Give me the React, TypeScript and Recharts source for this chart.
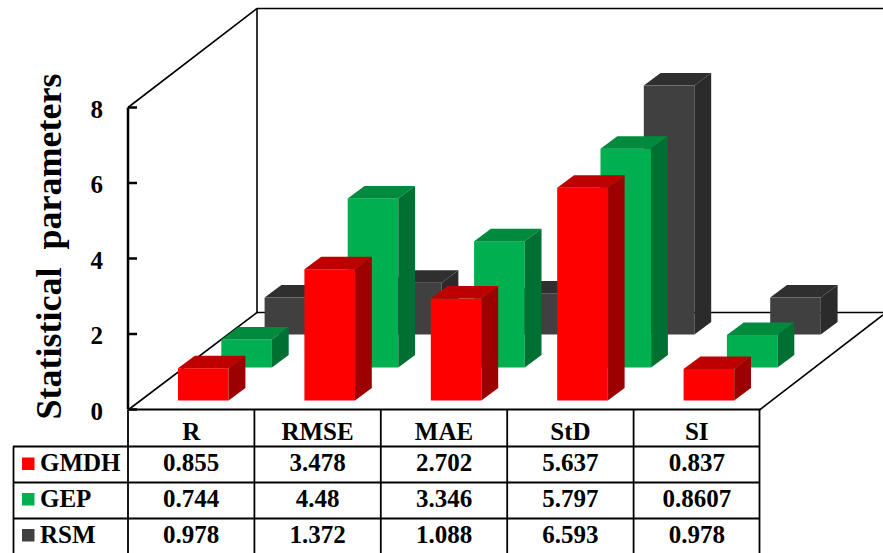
import { BarChart, Bar, XAxis, YAxis } from "recharts";

const categories = ["R", "RMSE", "MAE", "StD", "SI"];
const gmdh = [0.855, 3.478, 2.702, 5.637, 0.837];
const gep = [0.744, 4.48, 3.346, 5.797, 0.8607];
const rsm = [0.978, 1.372, 1.088, 6.593, 0.978];
const yTicks = [0, 2, 4, 6, 8];

const data = categories.map((name, i) => ({ name, gmdh: gmdh[i], gep: gep[i], rsm: rsm[i] }));

const FONT = "'Liberation Serif', 'Times New Roman', serif";
const WIDTH = 883;
const HEIGHT = 553;
const LEFT = 128;
const RIGHT = 760;
const TOP = 107.5;
const BOTTOM = 409.5;
const BAND = (RIGHT - LEFT) / categories.length;
const BAR_WIDTH = 50.6;

// one depth row of the floor, and the extrusion of each box
const ROW_DX = 43.3;
const ROW_DY = 33;
const FIRST_DX = 12;
const FIRST_DY = 9;
const BOX_DX = 16.8;
const BOX_DY = 12.5;

const RED = { front: "#ff0000", top: "#be0000", side: "#9c0000" };
const GREEN = { front: "#00b050", top: "#008a3e", side: "#006f32" };
const DARK = { front: "#404040", top: "#2f2f2f", side: "#2b2b2b" };

// Bars share one slot on the x axis, the shape pushes each series back along the floor
function boxShape(row: number, colors: typeof RED) {
  return (props: any) => {
    const x = props.x + FIRST_DX + row * ROW_DX;
    const y = props.y - FIRST_DY - row * ROW_DY;
    const w = props.width;
    const h = props.height;
    return (
      <g>
        <rect x={x} y={y} width={w} height={h} fill={colors.front} />
        <polygon
          points={`${x},${y} ${x + BOX_DX},${y - BOX_DY} ${x + w + BOX_DX},${y - BOX_DY} ${x + w},${y}`}
          fill={colors.top}
        />
        <polygon
          points={`${x + w},${y} ${x + w + BOX_DX},${y - BOX_DY} ${x + w + BOX_DX},${y + h - BOX_DY} ${x + w},${y + h}`}
          fill={colors.side}
        />
      </g>
    );
  };
}

function Walls() {
  const lines = [
    [LEFT, TOP, 257, 8.5],
    [257, 8.5, WIDTH, 8.5],
    [257, 8.5, 257, 312.5],
    [257, 312.5, WIDTH, 312.5],
    [LEFT, 410, 257, 312.5],
    [759.5, 410, WIDTH, 315],
  ];
  return (
    <g>
      {lines.map((l, i) => (
        <line key={i} x1={l[0]} y1={l[1]} x2={l[2]} y2={l[3]} stroke="#000" strokeWidth={1.6} />
      ))}
      <text
        transform="translate(61 246.5) rotate(-90)"
        textAnchor="middle"
        fontFamily={FONT}
        fontWeight="bold"
        fontSize={36}
        xmlSpace="preserve"
      >
        Statistical  parameters
      </text>
    </g>
  );
}

function DataTable() {
  const rows = [
    { name: "GMDH", values: gmdh, color: RED.front },
    { name: "GEP", values: gep, color: GREEN.front },
    { name: "RSM", values: rsm, color: DARK.front },
  ];
  const rowLines = [446.5, 482.5, 518.5];
  const baselines = [471, 506.5, 542.5];
  const line = { stroke: "#000", strokeWidth: 1.8 };
  return (
    <g fontFamily={FONT} fontWeight="bold" fontSize={25}>
      {rowLines.map((y) => (
        <line key={y} x1={13} x2={759.5} y1={y} y2={y} {...line} />
      ))}
      <line x1={13.5} x2={13.5} y1={446.5} y2={HEIGHT} {...line} />
      {categories.map((_, i) => (
        <line key={i} x1={LEFT + i * BAND} x2={LEFT + i * BAND} y1={410} y2={HEIGHT} {...line} />
      ))}
      <line x1={759.5} x2={759.5} y1={410} y2={HEIGHT} {...line} />
      {rows.map((row, r) => (
        <g key={row.name}>
          <rect x={22} y={baselines[r] - 13.5} width={12.5} height={12.5} fill={row.color} />
          <text x={40} y={baselines[r]}>{row.name}</text>
          {row.values.map((v, i) => (
            <text key={i} x={LEFT + (i + 0.5) * BAND} y={baselines[r]} textAnchor="middle">{v}</text>
          ))}
        </g>
      ))}
    </g>
  );
}

export default function App() {
  return (
    <div style={{ position: "absolute", left: 0, top: 0 }}>
      <BarChart
        width={WIDTH}
        height={HEIGHT}
        data={data}
        barSize={BAR_WIDTH}
        barGap={-BAR_WIDTH}
        barCategoryGap={0}
        margin={{ top: TOP, right: WIDTH - RIGHT, bottom: HEIGHT - BOTTOM - 36, left: 0 }}
      >
        <Walls />
        <XAxis
          dataKey="name"
          height={36}
          interval={0}
          axisLine={{ stroke: "#000", strokeWidth: 2 }}
          tickLine={false}
          tickSize={0}
          tickMargin={13}
          tick={{ fill: "#000", fontFamily: FONT, fontWeight: "bold", fontSize: 25 }}
        />
        <YAxis
          width={LEFT}
          domain={[0, 8]}
          ticks={yTicks}
          interval={0}
          axisLine={{ stroke: "#000", strokeWidth: 2.5 }}
          tickLine={{ stroke: "#000", strokeWidth: 2.5 }}
          tickSize={-9}
          tickMargin={33}
          tick={{ fill: "#000", fontFamily: FONT, fontWeight: "bold", fontSize: 25, dy: 1.5, dx: -1 }}
        />
        <Bar dataKey="rsm" shape={boxShape(2, DARK)} isAnimationActive={false} />
        <Bar dataKey="gep" shape={boxShape(1, GREEN)} isAnimationActive={false} />
        <Bar dataKey="gmdh" shape={boxShape(0, RED)} isAnimationActive={false} />
        <DataTable />
      </BarChart>
    </div>
  );
}
